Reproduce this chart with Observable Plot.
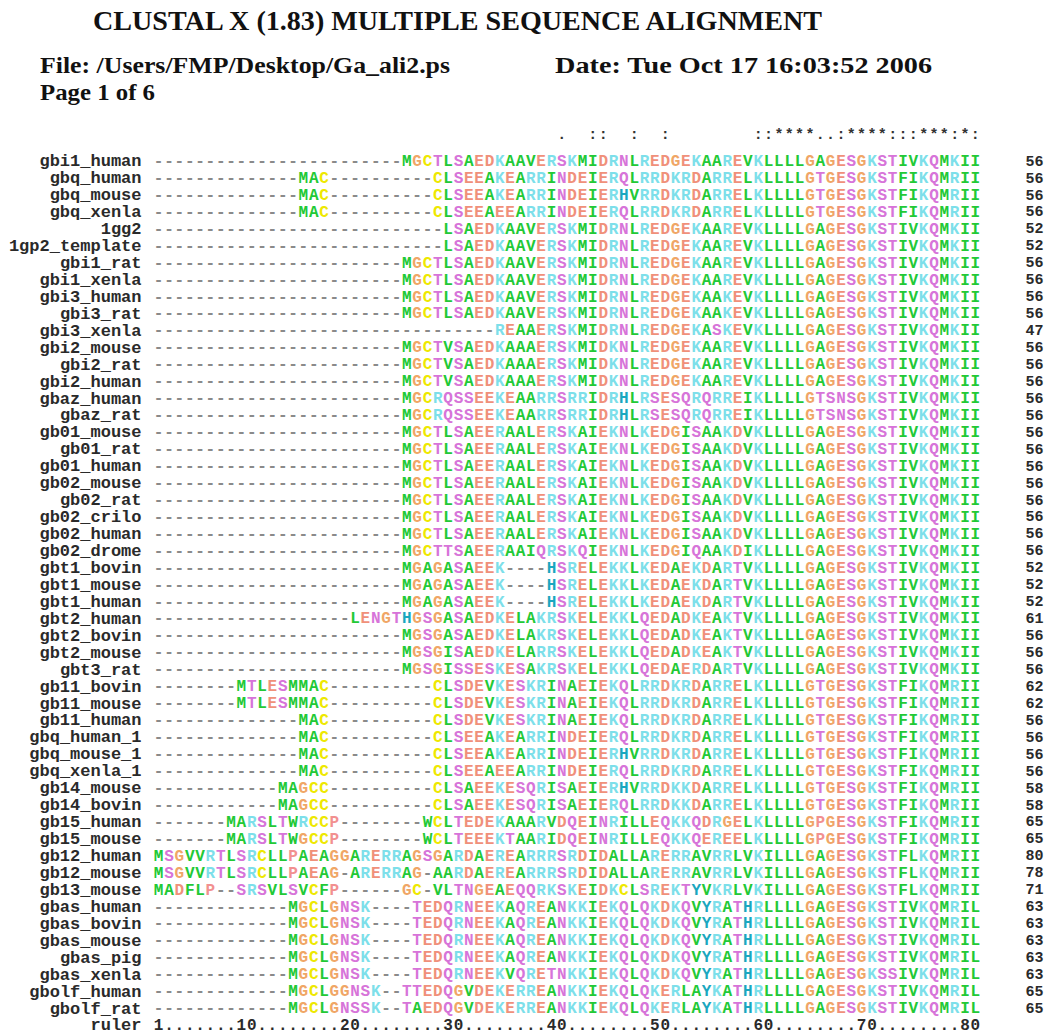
<!DOCTYPE html>
<html><head><meta charset="utf-8">
<script src="https://cdn.jsdelivr.net/npm/d3@7"></script>
<script src="https://cdn.jsdelivr.net/npm/@observablehq/plot@0.6"></script>
<style>
html,body{margin:0;padding:0;background:#fff;overflow:hidden;}
#page{position:relative;width:1045px;height:1036px;overflow:hidden;}
.hd{position:absolute;font-family:"Liberation Serif","Times New Roman",serif;font-weight:bold;color:#111;white-space:nowrap;transform-origin:0 0;line-height:1;}
#chart{position:absolute;left:0;top:108px;}
</style></head><body>
<div id="page">
<div class="hd" data-x="93" data-w="729" style="top:7px;font-size:28px">CLUSTAL X (1.83) MULTIPLE SEQUENCE ALIGNMENT</div>
<div class="hd" data-x="40" data-w="410" style="top:53px;font-size:24px">File: /Users/FMP/Desktop/Ga_ali2.ps</div>
<div class="hd" data-x="555" data-w="377" style="top:53px;font-size:24px">Date: Tue Oct 17 16:03:52 2006</div>
<div class="hd" data-x="40" data-w="115" style="top:80px;font-size:24px">Page 1 of 6</div>
<div id="chart"></div>
</div>
<script>
// ---- data ----
const names = [
 "gbi1_human","gbq_human","gbq_mouse","gbq_xenla","1gg2","1gp2_template","gbi1_rat","gbi1_xenla",
 "gbi3_human","gbi3_rat","gbi3_xenla","gbi2_mouse","gbi2_rat","gbi2_human","gbaz_human","gbaz_rat",
 "gb01_mouse","gb01_rat","gb01_human","gb02_mouse","gb02_rat","gb02_crilo","gb02_human","gb02_drome",
 "gbt1_bovin","gbt1_mouse","gbt1_human","gbt2_human","gbt2_bovin","gbt2_mouse","gbt3_rat",
 "gb11_bovin","gb11_mouse","gb11_human","gbq_human_1","gbq_mouse_1","gbq_xenla_1","gb14_mouse","gb14_bovin",
 "gb15_human","gb15_mouse","gb12_human","gb12_mouse","gb13_mouse",
 "gbas_human","gbas_bovin","gbas_mouse","gbas_pig","gbas_xenla","gbolf_human","gbolf_rat"
];
// alignment columns 1-80, written in blocks of 10 separated by "|"
const sequences = [
 "----------|----------|----MGCTLS|AEDKAAVERS|KMIDRNLRED|GEKAAREVKL|LLLGAGESGK|STIVKQMKII",
 "----------|----MAC---|-------CLS|EEAKEARRIN|DEIERQLRRD|KRDARRELKL|LLLGTGESGK|STFIKQMRII",
 "----------|----MAC---|-------CLS|EEAKEARRIN|DEIERHVRRD|KRDARRELKL|LLLGTGESGK|STFIKQMRII",
 "----------|----MAC---|-------CLS|EEAEEARRIN|DEIERQLRRD|KRDARRELKL|LLLGTGESGK|STFIKQMRII",
 "----------|----------|--------LS|AEDKAAVERS|KMIDRNLRED|GEKAAREVKL|LLLGAGESGK|STIVKQMKII",
 "----------|----------|--------LS|AEDKAAVERS|KMIDRNLRED|GEKAAREVKL|LLLGAGESGK|STIVKQMKII",
 "----------|----------|----MGCTLS|AEDKAAVERS|KMIDRNLRED|GEKAAREVKL|LLLGAGESGK|STIVKQMKII",
 "----------|----------|----MGCTLS|AEDKAAVERS|KMIDRNLRED|GEKAAREVKL|LLLGAGESGK|STIVKQMKII",
 "----------|----------|----MGCTLS|AEDKAAVERS|KMIDRNLRED|GEKAAKEVKL|LLLGAGESGK|STIVKQMKII",
 "----------|----------|----MGCTLS|AEDKAAVERS|KMIDRNLRED|GEKAAKEVKL|LLLGAGESGK|STIVKQMKII",
 "----------|----------|----------|---REAAERS|KMIDRNLRED|GEKASKEVKL|LLLGAGESGK|STIVKQMKII",
 "----------|----------|----MGCTVS|AEDKAAAERS|KMIDKNLRED|GEKAAREVKL|LLLGAGESGK|STIVKQMKII",
 "----------|----------|----MGCTVS|AEDKAAAERS|KMIDKNLRED|GEKAAREVKL|LLLGAGESGK|STIVKQMKII",
 "----------|----------|----MGCTVS|AEDKAAAERS|KMIDKNLRED|GEKAAREVKL|LLLGAGESGK|STIVKQMKII",
 "----------|----------|----MGCRQS|SEEKEAARRS|RRIDRHLRSE|SQRQRREIKL|LLLGTSNSGK|STIVKQMKII",
 "----------|----------|----MGCRQS|SEEKEAARRS|RRIDRHLRSE|SQRQRREIKL|LLLGTSNSGK|STIVKQMKII",
 "----------|----------|----MGCTLS|AEERAALERS|KAIEKNLKED|GISAAKDVKL|LLLGAGESGK|STIVKQMKII",
 "----------|----------|----MGCTLS|AEERAALERS|KAIEKNLKED|GISAAKDVKL|LLLGAGESGK|STIVKQMKII",
 "----------|----------|----MGCTLS|AEERAALERS|KAIEKNLKED|GISAAKDVKL|LLLGAGESGK|STIVKQMKII",
 "----------|----------|----MGCTLS|AEERAALERS|KAIEKNLKED|GISAAKDVKL|LLLGAGESGK|STIVKQMKII",
 "----------|----------|----MGCTLS|AEERAALERS|KAIEKNLKED|GISAAKDVKL|LLLGAGESGK|STIVKQMKII",
 "----------|----------|----MGCTLS|AEERAALERS|KAIEKNLKED|GISAAKDVKL|LLLGAGESGK|STIVKQMKII",
 "----------|----------|----MGCTLS|AEERAALERS|KAIEKNLKED|GISAAKDVKL|LLLGAGESGK|STIVKQMKII",
 "----------|----------|----MGCTTS|AEERAAIQRS|KQIEKNLKED|GIQAAKDIKL|LLLGAGESGK|STIVKQMKII",
 "----------|----------|----MGAGAS|AEEK----HS|RELEKKLKED|AEKDARTVKL|LLLGAGESGK|STIVKQMKII",
 "----------|----------|----MGAGAS|AEEK----HS|RELEKKLKED|AEKDARTVKL|LLLGAGESGK|STIVKQMKII",
 "----------|----------|----MGAGAS|AEEK----HS|RELEKKLKED|AEKDARTVKL|LLLGAGESGK|STIVKQMKII",
 "----------|---------L|ENGTHGSGAS|AEDKELAKRS|KELEKKLQED|ADKEAKTVKL|LLLGAGESGK|STIVKQMKII",
 "----------|----------|----MGSGAS|AEDKELAKRS|KELEKKLQED|ADKEAKTVKL|LLLGAGESGK|STIVKQMKII",
 "----------|----------|----MGSGIS|AEDKELARRS|KELEKKLQED|ADKEAKTVKL|LLLGAGESGK|STIVKQMKII",
 "----------|----------|----MGSGIS|SESKESAKRS|KELEKKLQED|AERDARTVKL|LLLGAGESGK|STIVKQMKII",
 "--------MT|LESMMAC---|-------CLS|DEVKESKRIN|AEIEKQLRRD|KRDARRELKL|LLLGTGESGK|STFIKQMRII",
 "--------MT|LESMMAC---|-------CLS|DEVKESKRIN|AEIEKQLRRD|KRDARRELKL|LLLGTGESGK|STFIKQMRII",
 "----------|----MAC---|-------CLS|DEVKESKRIN|AEIEKQLRRD|KRDARRELKL|LLLGTGESGK|STFIKQMRII",
 "----------|----MAC---|-------CLS|EEAKEARRIN|DEIERQLRRD|KRDARRELKL|LLLGTGESGK|STFIKQMRII",
 "----------|----MAC---|-------CLS|EEAKEARRIN|DEIERHVRRD|KRDARRELKL|LLLGTGESGK|STFIKQMRII",
 "----------|----MAC---|-------CLS|EEAEEARRIN|DEIERQLRRD|KRDARRELKL|LLLGTGESGK|STFIKQMRII",
 "----------|--MAGCC---|-------CLS|AEEKESQRIS|AEIERHVRRD|KKDARRELKL|LLLGTGESGK|STFIKQMRII",
 "----------|--MAGCC---|-------CLS|AEEKESQRIS|AEIERQLRRD|KKDARRELKL|LLLGTGESGK|STFIKQMRII",
 "-------MAR|SLTWRCCP--|------WCLT|EDEKAAARVD|QEINRILLEQ|KKQDRGELKL|LLLGPGESGK|STFIKQMRII",
 "-------MAR|SLTWGCCP--|------WCLT|EEEKTAARID|QEINRILLEQ|KKQEREELKL|LLLGPGESGK|STFIKQMRII",
 "MSGVVRTLSR|CLLPAEAGGA|RERRAGSGAR|DAEREARRRS|RDIDALLARE|RRAVRRLVKI|LLLGAGESGK|STFLKQMRII",
 "MSGVVRTLSR|CLLPAEAG-A|RERRAG-AAR|DAEREARRRS|RDIDALLARE|RRAVRRLVKI|LLLGAGESGK|STFLKQMRII",
 "MADFLP--SR|SVLSVCFP--|----GC-VLT|NGEAEQQRKS|KEIDKCLSRE|KTYVKRLVKI|LLLGAGESGK|STFLKQMRII",
 "----------|---MGCLGNS|K----TEDQR|NEEKAQREAN|KKIEKQLQKD|KQVYRATHRL|LLLGAGESGK|STIVKQMRIL",
 "----------|---MGCLGNS|K----TEDQR|NEEKAQREAN|KKIEKQLQKD|KQVYRATHRL|LLLGAGESGK|STIVKQMRIL",
 "----------|---MGCLGNS|K----TEDQR|NEEKAQREAN|KKIEKQLQKD|KQVYRATHRL|LLLGAGESGK|STIVKQMRIL",
 "----------|---MGCLGNS|K----TEDQR|NEEKAQREAN|KKIEKQLQKD|KQVYRATHRL|LLLGAGESGK|STIVKQMRIL",
 "----------|---MGCLGNS|K----TEDQR|NEEKVQRETN|KKIEKQLQKD|KQVYRATHRL|LLLGAGESGK|SSIVKQMRIL",
 "----------|---MGCLGGN|SK--TTEDQG|VDEKERREAN|KKIEKQLQKE|RLAYKATHRL|LLLGAGESGK|STIVKQMRIL",
 "----------|---MGCLGNS|SK--TAEDQG|VDEKERREAN|KKIEKQLQKE|RLAYKATHRL|LLLGAGESGK|STIVKQMRIL"
];
const residueCounts = [56,56,56,56,52,52,56,56,56,56,47,56,56,56,56,56,56,56,56,56,56,56,56,56,
 52,52,52,61,56,56,56,62,62,56,56,56,56,58,58,65,65,80,78,71,63,63,63,63,63,65,65];
const conservation = "          |          |          |         .|  ::  :  :|        ::|****..:***|*:::***:*:";
const ruler = "1.......10|........20|........30|........40|........50|........60|........70|........80";
const residues      = ["A","V","I","L","M","F","W","C","G","P","S","T","N","Q","D","E","K","R","H","Y","-"];
const residueColors = ["#22c936","#22c936","#22c936","#22c936","#22c936","#22c936","#22c936",
 "#eee800","#f0a666","#f29090","#d774d9","#d774d9","#d774d9","#d774d9","#f0907a","#f0907a",
 "#7ddfea","#7ddfea","#1aa7bf","#1aa7bf","#8a8a8a"];

// ---- build ----
const rowKeys = ["conservation", ...names, "ruler"];
const strip = s => s.split("|").join("");
const cells = [];
sequences.forEach((s, i) => {
  const t = strip(s);
  if (t.length !== 80) throw new Error("bad length " + names[i] + " " + t.length);
  for (let c = 0; c < 80; c++) cells.push({row: names[i], col: c + 1, ch: t[c]});
});
const consCells = [];
strip(conservation).split("").forEach((ch, c) => { if (ch !== " ") consCells.push({row: "conservation", col: c + 1, ch}); });
const rulerCells = strip(ruler).split("").map((ch, c) => ({row: "ruler", col: c + 1, ch}));
const countOf = new Map(names.map((n, i) => [n, residueCounts[i]]));

const H = 928;
const chart = Plot.plot({
  width: 1045, height: H,
  marginLeft: 153, marginRight: 65, marginTop: 0, marginBottom: 0,
  x: {domain: [0.5, 80.5], axis: null},
  y: {type: "point", domain: rowKeys, range: [134.9 - 108, 1033 - 108], axis: null},
  color: {type: "ordinal", domain: residues, range: residueColors},
  style: {fontFamily: "'Liberation Mono', monospace", fontWeight: "bold", background: "#fff"},
  marks: [
    Plot.text(cells, {x: "col", y: "row", text: "ch", fill: "ch", fontSize: 16, fontWeight: "bold"}),
    Plot.text(consCells, {x: "col", y: "row", text: "ch", fill: "#333", fontSize: 15, fontWeight: "bold", dy: -10}),
    Plot.text(rulerCells, {x: "col", y: "row", text: "ch", fill: "#2a2a2a", fontSize: 16, fontWeight: "bold"}),
    Plot.axisY([...names, "ruler"], {anchor: "left", tickSize: 0, tickPadding: 12, label: null,
      fontSize: 17, fontWeight: "bold", fill: "#2a2a2a"}),
    Plot.axisY(names, {anchor: "right", tickSize: 0, tickPadding: 45, label: null,
      tickFormat: d => String(countOf.get(d)), fontSize: 15, fontWeight: "bold", fill: "#2a2a2a"})
  ]
});
document.getElementById("chart").appendChild(chart);

// fit header lines to their measured widths in the reference
document.querySelectorAll(".hd").forEach(el => {
  const w = el.getBoundingClientRect().width;
  el.style.left = el.dataset.x + "px";
  el.style.transform = `scaleX(${(+el.dataset.w / w).toFixed(4)})`;
});
</script>
</body></html>
